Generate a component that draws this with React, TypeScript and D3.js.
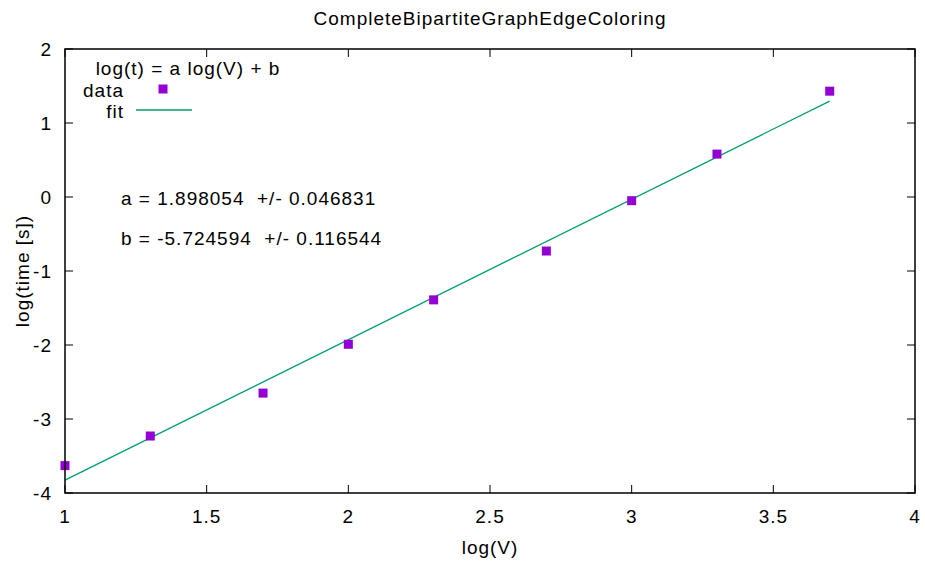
import React from 'react'
import * as d3 from 'd3'

// log10 of vertex counts and measured times
const logV = [1, 1.30103, 1.69897, 2, 2.30103, 2.69897, 3, 3.30103, 3.69897]
const logT = [-3.63, -3.23, -2.65, -1.99, -1.39, -0.73, -0.05, 0.58, 1.43]
const fitA = 1.898054
const fitB = -5.724594
const fitErrA = 0.046831
const fitErrB = 0.116544
const xTicks = [1, 1.5, 2, 2.5, 3, 3.5, 4]
const yTicks = [-4, -3, -2, -1, 0, 1, 2]

const App = () => {
  const width = 925
  const height = 565
  const margin = { top: 49, right: 10, bottom: 72, left: 65 }
  const innerWidth = width - margin.left - margin.right
  const innerHeight = height - margin.top - margin.bottom

  const xScale = d3.scaleLinear().domain([1, 4]).range([0, innerWidth])
  const yScale = d3.scaleLinear().domain([-4, 2]).range([innerHeight, 0])

  const fitX = [logV[0], logV[logV.length - 1]]
  const fitLine = d3.line<number>()
    .x(d => xScale(d))
    .y(d => yScale(fitA * d + fitB))(fitX)

  const font = 'Liberation Sans, Arial, Helvetica, sans-serif'
  const tick = 8
  const violet = '#9400d3'
  const green = '#009e73'

  return (
    <svg width={width} height={height} style={{ position: 'absolute', left: 0, top: 0, background: 'white' }}
      fontFamily={font} fontSize={19} letterSpacing={1}>
      <text x={490} y={25} textAnchor='middle'>CompleteBipartiteGraphEdgeColoring</text>
      <g transform={`translate(${margin.left},${margin.top})`}>
        <path d={fitLine || ''} fill='none' stroke={green} strokeWidth={1.3} />
        {logV.map((v, i) => (
          <rect key={i} x={xScale(v) - 4.5} y={yScale(logT[i]) - 4.5} width={9} height={9} fill={violet} />
        ))}
        <rect x={0} y={0} width={innerWidth} height={innerHeight} fill='none' stroke='black' strokeWidth={1.5} />
        {xTicks.map(t => (
          <g key={t} transform={`translate(${xScale(t)},0)`}>
            <line y1={innerHeight} y2={innerHeight - tick} stroke='black' />
            <line y1={0} y2={tick} stroke='black' />
            <text y={innerHeight + 30} textAnchor='middle'>{t}</text>
          </g>
        ))}
        {yTicks.map(t => (
          <g key={t} transform={`translate(0,${yScale(t)})`}>
            <line x1={0} x2={tick} stroke='black' />
            <line x1={innerWidth} x2={innerWidth - tick} stroke='black' />
            <text x={-13} y={7} textAnchor='end'>{t}</text>
          </g>
        ))}
      </g>
      <text x={188} y={75} textAnchor='middle'>log(t) = a log(V) + b</text>
      <text x={124} y={97} textAnchor='end'>data</text>
      <rect x={158.5} y={84.5} width={9} height={9} fill={violet} />
      <text x={124} y={118} textAnchor='end'>fit</text>
      <line x1={136} x2={192} y1={110} y2={110} stroke={green} strokeWidth={1.3} />
      <text x={121} y={205} style={{ whiteSpace: 'pre' }}>{`a = ${fitA.toFixed(6)}  +/- ${fitErrA.toFixed(6)}`}</text>
      <text x={121} y={245} style={{ whiteSpace: 'pre' }}>{`b = ${fitB.toFixed(6)}  +/- ${fitErrB.toFixed(6)}`}</text>
      <text x={490} y={554} textAnchor='middle'>log(V)</text>
      <text transform={`translate(29,271) rotate(-90)`} textAnchor='middle'>log(time [s])</text>
    </svg>
  )
}

export default App
